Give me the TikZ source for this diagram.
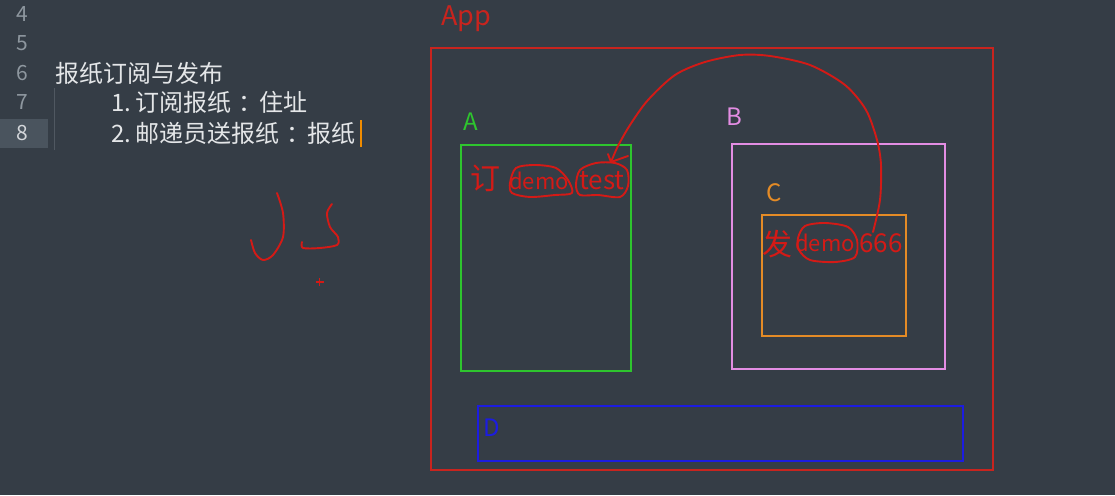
\documentclass[tikz,border=0pt]{standalone}
\usepackage{fontspec}
\setmainfont{Noto Sans CJK SC}
\definecolor{bgc}{HTML}{353D46}
\definecolor{hlc}{HTML}{4A545E}
\definecolor{numc}{HTML}{8E979F}
\definecolor{txtc}{HTML}{E4E6E8}
\definecolor{appred}{HTML}{C8241E}
\definecolor{hand}{HTML}{D41A16}
\definecolor{grn}{HTML}{2EC52E}
\definecolor{pnk}{HTML}{E38DE3}
\definecolor{org}{HTML}{E48B26}
\definecolor{blu}{HTML}{1C1CE0}
\definecolor{curc}{HTML}{F08C00}
\newcommand{\fwcolon}{\hspace{7pt}：\hspace{-3pt}}
\begin{document}
\begin{tikzpicture}[x=1pt,y=-1pt,
  box/.style={draw, line width=1.8pt, anchor=north west, inner sep=0pt},
  lnum/.style={text=numc, font=\fontsize{21}{21}\selectfont, anchor=center},
  code/.style={text=txtc, font=\fontsize{24}{24}\selectfont, anchor=west, inner sep=0pt},
  lab/.style={font=\fontsize{24}{24}\selectfont, anchor=center, inner sep=0pt},
  htext/.style={text=hand, font=\fontsize{24}{24}\selectfont, anchor=center, inner sep=0pt},
  stroke/.style={draw=hand, line width=1.9pt, line cap=round, line join=round}]
\useasboundingbox[fill=bgc] (0,0) rectangle (1115,495);
% editor
\fill[hlc] (0,119) rectangle (48,148);
\draw[numc!30!bgc, line width=0.6pt] (54,88) -- (54,150);
\node[lnum] (n4) at (22,14) {4};
\node[lnum] (n5) at (22,43) {5};
\node[lnum] (n6) at (22,73) {6};
\node[lnum] (n7) at (22,102) {7};
\node[lnum, text=txtc!80!numc] (n8) at (22,133) {8};
\node[code] (l6) at (55,73) {报纸订阅与发布};
\node[code] (l7) at (111,102) {1.\,订阅报纸\fwcolon 住址};
\node[code] (l8) at (111,133) {2.\,邮递员送报纸\fwcolon 报纸};
\coordinate (cu1) at ([xshift=6pt,yshift=13pt]l8.east);
\coordinate (cu2) at ([xshift=6pt,yshift=-14pt]l8.east);
\draw[draw=curc, line width=2pt] (cu1) -- (cu2);
% JS handwriting
\draw[stroke] plot[smooth] coordinates {(277,193) (283,213) (283,237) (273,255) (263,260) (255,253) (251,240)};
\draw[stroke] plot[smooth] coordinates {(332,204) (327,213) (330,227) (338,237) (337,245) (320,248) (303,248) (302,242)};
\draw[hand, line width=1.6pt] (315.5,282) -- (323.5,282) (319.5,278) -- (319.5,286);
% boxes
\node[box, draw=appred, minimum width=562pt, minimum height=422pt] (app) at (430,47) {};
\node[lab, text=appred, font=\fontsize{27}{27}\selectfont] (applab) at (466,19) {App};
\node[box, draw=grn, minimum width=170pt, minimum height=226pt] (a) at (460,144) {};
\node[lab, text=grn] (alab) at (471,122) {A};
\node[box, draw=pnk, minimum width=213pt, minimum height=225pt] (b) at (731,143) {};
\node[lab, text=pnk] (blab) at (734,117) {B};
\node[box, draw=org, minimum width=144pt, minimum height=121pt] (c) at (761,214) {};
\node[lab, text=org] (clab) at (774,193) {C};
\node[box, draw=blu, minimum width=485pt, minimum height=55pt] (d) at (477,405) {};
\node[lab, text=blu] (dlab) at (492,428) {D};
% handwritten contents
\node[htext, font=\fontsize{30}{30}\selectfont] (ding) at (485,178) {订};
\node[htext, font=\fontsize{22}{22}\selectfont] (demoA) at (539,181) {demo};
\node[htext, font=\fontsize{26}{26}\selectfont] (test) at (602,181) {test};
\node[htext, font=\fontsize{30}{30}\selectfont] (fa) at (777,244) {发};
\node[htext, font=\fontsize{22}{22}\selectfont] (demoC) at (825,243) {demo};
\node[htext, font=\fontsize{26}{26}\selectfont] (six) at (881,243) {666};
\draw[stroke] plot[smooth cycle] coordinates {(510,183) (516,168) (535,165) (556,168) (568,180) (572,193) (555,195) (530,197) (512,193)};
\draw[stroke] plot[smooth cycle] coordinates {(576,185) (580,170) (596,163) (615,163) (627,170) (628,186) (620,197) (598,195) (580,195)};
\draw[stroke] plot[smooth cycle] coordinates {(798,238) (805,226) (825,223) (848,227) (857,240) (855,257) (835,262) (810,260) (799,250)};
% arrow from C's 666 to A's test
\coordinate (tip) at (611,162);
\draw[stroke] plot[smooth] coordinates {(873,232) (880,200) (881,165) (877,140) (866,110) (845,85) (810,65) (770,56) (740,55) (705,62) (675,75) (648,100) (630,125) (618,146) (611,162)};
\draw[stroke] (tip) -- ++(-3,-8);
\draw[stroke] (tip) -- ++(17,-6);
\end{tikzpicture}
\end{document}
